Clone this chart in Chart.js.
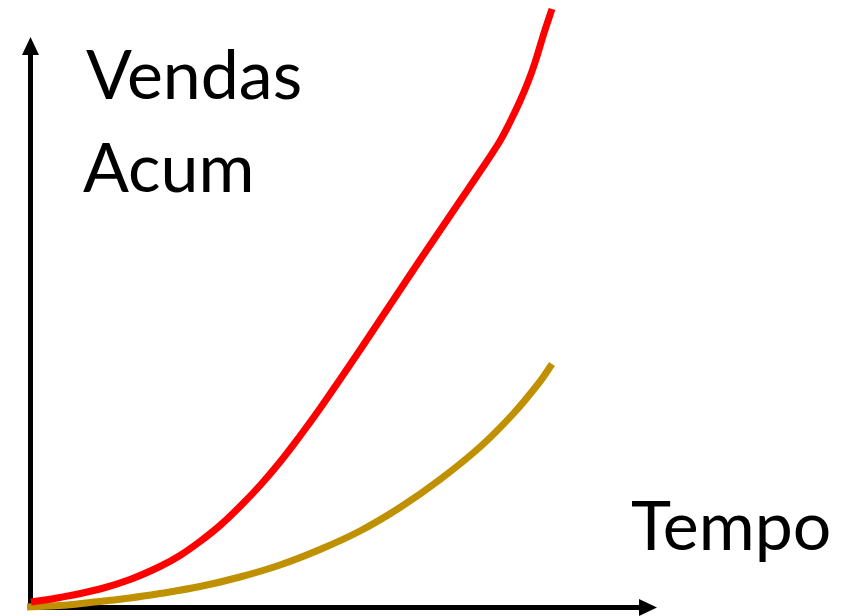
<!DOCTYPE html>
<html>
<head>
<meta charset="utf-8">
<script src="https://cdn.jsdelivr.net/npm/chart.js@4/dist/chart.umd.min.js"></script>
<style>
  html, body { margin: 0; padding: 0; background: #fff; }
  canvas { display: block; }
</style>
</head>
<body>
<canvas id="salesChart" width="858" height="616"></canvas>
<script>
// tempo (x) e vendas acumuladas (y)
const redTime   = [0, 5.8, 13.8, 19.8, 25.8, 29.8, 33.8, 37.8, 41.8, 45.8, 49.8, 53.8, 57.8, 61.8,
                   65.8, 69.8, 73.8, 77.8, 81.8, 85.8, 89.8, 93.8, 95.8, 97.8, 99.4, 100.8, 102.6, 104.2];
const redSales  = [1.0, 1.9, 3.6, 5.5, 8.1, 10.3, 13.1, 16.3, 20.1, 24.3, 29.0, 34.2, 39.7, 45.5,
                   51.4, 57.4, 63.4, 69.4, 75.3, 81.2, 87.1, 93.2, 97.0, 101.2, 105.0, 108.9, 114.8, 119.6];

const goldTime  = [-0.8, 5.8, 11.8, 19.8, 25.8, 33.8, 41.8, 49.8, 57.8, 65.8, 73.8, 81.8, 89.8, 96.4, 101.8, 104.2];
const goldSales = [0, 0.3, 0.9, 1.8, 2.7, 4.1, 6.0, 8.4, 11.5, 15.2, 19.9, 25.5, 32.0, 38.6, 45.1, 48.6];

const yAxisLabel = ["Vendas", "Acum"];
const xAxisLabel = "Tempo";

const toPoints = (xs, ys) => xs.map((x, i) => ({ x: x, y: ys[i] }));

const axesPlugin = {
  id: "axesPlugin",
  beforeDatasetsDraw(chart) {
    const ctx = chart.ctx;
    const x = chart.scales.x;
    const y = chart.scales.y;
    const ox = x.getPixelForValue(0) - 0.5;
    const oy = y.getPixelForValue(0) + 0.5;
    const yTip = y.getPixelForValue(114);
    const xTip = x.getPixelForValue(125.2);

    ctx.save();
    ctx.strokeStyle = "#000";
    ctx.fillStyle = "#000";
    ctx.lineWidth = 5;
    ctx.beginPath();
    ctx.moveTo(ox, oy + 2.5);
    ctx.lineTo(ox, yTip + 16);
    ctx.moveTo(ox - 2.5, oy);
    ctx.lineTo(xTip - 16, oy);
    ctx.stroke();

    ctx.beginPath();
    ctx.moveTo(ox, yTip);
    ctx.lineTo(ox - 8.5, yTip + 18);
    ctx.lineTo(ox + 8.5, yTip + 18);
    ctx.closePath();
    ctx.fill();

    ctx.beginPath();
    ctx.moveTo(xTip, oy);
    ctx.lineTo(xTip - 18, oy - 8.5);
    ctx.lineTo(xTip - 18, oy + 8.5);
    ctx.closePath();
    ctx.fill();
    ctx.restore();
  },
  afterDraw(chart) {
    const ctx = chart.ctx;
    ctx.save();
    ctx.fillStyle = "#000";
    ctx.font = "68px Lato";
    ctx.textBaseline = "alphabetic";
    ctx.fillText(yAxisLabel[0], 86, 99);
    ctx.fillText(yAxisLabel[1], 83, 192);
    ctx.fillText(xAxisLabel, 631, 550);
    ctx.restore();
  }
};

document.addEventListener("DOMContentLoaded", function () {
  const ctx = document.getElementById("salesChart").getContext("2d");

  new Chart(ctx, {
    type: "line",
    data: {
      datasets: [
        {
          label: "Vendas A",
          data: toPoints(redTime, redSales),
          borderColor: "#ff0000",
          borderWidth: 7,
          pointRadius: 0,
          tension: 0.4,
          clip: false,
          fill: false
        },
        {
          label: "Vendas B",
          data: toPoints(goldTime, goldSales),
          borderColor: "#bf9000",
          borderWidth: 7,
          pointRadius: 0,
          tension: 0.4,
          clip: false,
          fill: false
        }
      ]
    },
    options: {
      responsive: false,
      animation: false,
      layout: { padding: { left: 26, right: 202, top: 7, bottom: 9 } },
      plugins: {
        legend: { display: false },
        tooltip: { enabled: false }
      },
      scales: {
        x: { type: "linear", min: -1, max: 125, display: false },
        y: { type: "linear", min: 0, max: 120, display: false }
      }
    },
    plugins: [axesPlugin]
  });
});
</script>
</body>
</html>
